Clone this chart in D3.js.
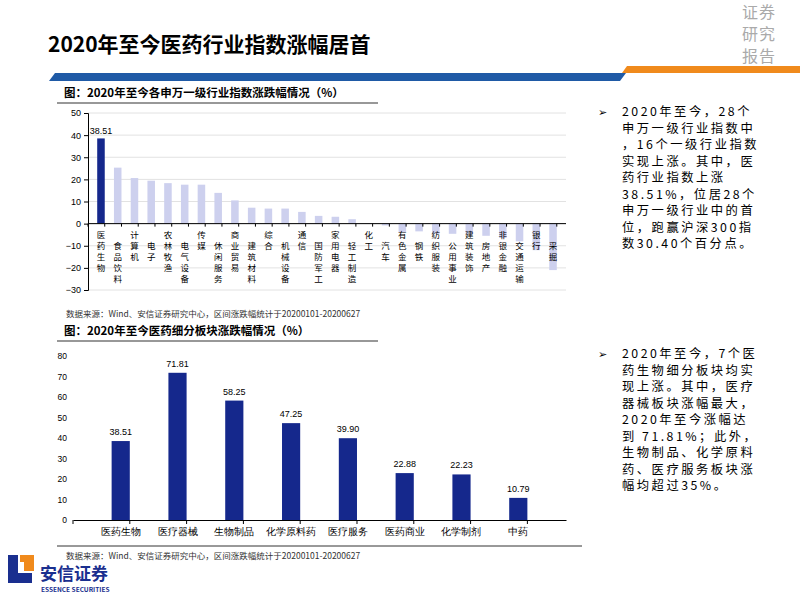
<!DOCTYPE html>
<html><head><meta charset="utf-8">
<script src="https://cdn.jsdelivr.net/npm/d3@7"></script>
<style>body{margin:0;background:#fff}svg{font-family:"Noto Sans CJK SC","Noto Sans",sans-serif}</style>
</head><body><svg id="c" width="800" height="600"></svg>
<script>
const industries = ["医药生物","食品饮料","计算机","电子","农林牧渔","电气设备","传媒","休闲服务","商业贸易","建筑材料","综合","机械设备","通信","国防军工","家用电器","轻工制造","化工","汽车","有色金属","钢铁","纺织服装","公用事业","建筑装饰","房地产","非银金融","交通运输","银行","采掘"];
const industryValues = [38.51,25.3,20.6,19.4,18.3,17.6,17.6,13.9,10.5,7.2,6.8,6.8,5.3,3.5,3.1,2.0,0.2,-0.8,-3.8,-3.5,-4.6,-4.6,-4.6,-5.5,-6.5,-8.0,-12.0,-21.0];
const topTicks = [50,40,30,20,10,0,-10,-20,-30];
const sectors = ["医药生物","医疗器械","生物制品","化学原料药","医疗服务","医药商业","化学制剂","中药"];
const sectorValues = [38.51,71.81,58.25,47.25,39.90,22.88,22.23,10.79];
const bottomTicks = [0,10,20,30,40,50,60,70,80];

const svg = d3.select("#c");
const navy = "#15288c";

// header
svg.append("text").attr("x",48).attr("y",52).attr("font-size",21).attr("font-weight","bold").text("2020年至今医药行业指数涨幅居首");
["证券","研究","报告"].forEach((t,i)=>svg.append("text").attr("x",742).attr("y",18+i*22).attr("font-size",16).attr("fill","#aaa").attr("letter-spacing",1).text(t));
svg.append("path").attr("d","M55,73 L626,73 L620,81 L49,81 Z").attr("fill","#1f5aa6");
svg.append("path").attr("d","M627,66 L800,66 L800,73 L622,73 Z").attr("fill","#f08a1c");

// captions
function caption(y, text, x2){
  svg.append("text").attr("x",64).attr("y",y).attr("font-size",11.5).attr("font-weight","bold").text(text);
  svg.append("line").attr("x1",57).attr("x2",x2).attr("y1",y+6).attr("y2",y+6).attr("stroke","#333").attr("stroke-width",1.2);
}
caption(97,"图：2020年至今各申万一级行业指数涨跌幅情况（%）",378);
caption(335,"图：2020年至今医药细分板块涨跌幅情况（%）",378);
function source(y){
  svg.append("text").attr("x",66).attr("y",y).attr("font-size",8.5).attr("fill","#333").text("数据来源：Wind、安信证券研究中心，区间涨跌幅统计于20200101-20200627");
}
source(317);
svg.append("line").attr("x1",57).attr("x2",582).attr("y1",546).attr("y2",546).attr("stroke","#333");
source(559);

// top chart
const x1 = d3.scaleBand().domain(industries).range([88,566]).padding(0.55);
const y1 = d3.scaleLinear().domain([-30,50]).range([290,113]);
const g1 = svg.append("g");
g1.selectAll("line.grid").data(topTicks).join("line").attr("x1",88).attr("x2",566)
  .attr("y1",d=>y1(d)).attr("y2",d=>y1(d)).attr("stroke","#e2e2e2");
g1.append("g").attr("transform","translate(88,0)").call(d3.axisLeft(y1).tickValues(topTicks).tickSize(4))
  .call(a=>{a.selectAll("text").attr("font-size",9).attr("font-family","Liberation Sans");});
g1.selectAll("rect").data(industryValues).join("rect")
  .attr("x",(d,i)=>x1(industries[i])).attr("width",x1.bandwidth())
  .attr("y",d=>y1(Math.max(0,d))).attr("height",d=>Math.abs(y1(d)-y1(0)))
  .attr("fill",(d,i)=>i===0?navy:"#cdd0ee");
g1.append("line").attr("x1",88).attr("x2",566).attr("y1",y1(0)).attr("y2",y1(0)).attr("stroke","#000");
g1.selectAll("line.tk").data(d3.range(industries.length+1)).join("line")
  .attr("x1",i=>88+i*x1.step()).attr("x2",i=>88+i*x1.step())
  .attr("y1",y1(0)).attr("y2",y1(0)+3).attr("stroke","#000");
g1.append("text").attr("x",x1(industries[0])+x1.bandwidth()/2).attr("y",y1(industryValues[0])-4)
  .attr("text-anchor","middle").attr("font-size",9).attr("font-family","Liberation Sans").text(industryValues[0].toFixed(2));
industries.forEach((name,i)=>{
  const cx = x1(name)+x1.bandwidth()/2;
  const start = y1(0)+14 + (i%2)*11;
  const t = g1.append("text").attr("font-size",8.5);
  [...name].forEach((ch,j)=>t.append("tspan").attr("x",cx).attr("y",start+j*11)
    .attr("text-anchor","middle").text(ch));
});

// bottom chart
const x2 = d3.scaleBand().domain(sectors).range([73,566]).padding(0.68);
const y2 = d3.scaleLinear().domain([0,80]).range([520,356]);
const g2 = svg.append("g");
g2.append("g").attr("transform","translate(73,0)").call(d3.axisLeft(y2).tickValues(bottomTicks).tickSize(0).tickPadding(6))
  .call(a=>{a.select("path").remove();a.selectAll("text").attr("font-size",8.5).attr("font-family","Liberation Sans");});
g2.selectAll("rect").data(sectorValues).join("rect")
  .attr("x",(d,i)=>x2(sectors[i])).attr("width",x2.bandwidth())
  .attr("y",d=>y2(d)).attr("height",d=>y2(0)-y2(d)).attr("fill",navy);
g2.selectAll("text.v").data(sectorValues).join("text")
  .attr("x",(d,i)=>x2(sectors[i])+x2.bandwidth()/2).attr("y",d=>y2(d)-6)
  .attr("text-anchor","middle").attr("font-size",9).attr("font-family","Liberation Sans").text(d=>d.toFixed(2));
g2.append("g").attr("transform",`translate(0,${y2(0)})`).call(d3.axisBottom(x2).tickSize(0).tickPadding(8).tickSizeOuter(0))
  .call(a=>{a.select("path").attr("stroke","#000");a.selectAll("text").attr("font-size",9.5);});
g2.selectAll("line.tk").data(d3.range(sectors.length+1)).join("line")
  .attr("x1",i=>73+i*x2.step()).attr("x2",i=>73+i*x2.step())
  .attr("y1",y2(0)).attr("y2",y2(0)+4).attr("stroke","#000");

// right text
function para(y, lines){
  svg.append("text").attr("x",598).attr("y",y).attr("font-size",11).text("➢");
  lines.forEach((l,i)=>svg.append("text").attr("x",622).attr("y",y+i*16.5)
    .attr("font-size",12.3).attr("letter-spacing",2.5).text(l));
}
para(116,["2020年至今，28个","申万一级行业指数中","，16个一级行业指数","实现上涨。其中，医","药行业指数上涨","38.51%，位居28个","申万一级行业中的首","位，跑赢沪深300指","数30.40个百分点。"]);
para(358,["2020年至今，7个医","药生物细分板块均实","现上涨。其中，医疗","器械板块涨幅最大，","2020年至今涨幅达","到 71.81%；此外，","生物制品、化学原料","药、医疗服务板块涨","幅均超过35%。"]);

// logo
svg.append("path").attr("d","M8,555 L8,583 L32,583 L32,573 L18,573 L18,555 Z").attr("fill","#1a2f8f");
svg.append("path").attr("d","M20,555 L34,555 L34,571 L24,571 L24,562 L20,562 Z").attr("fill","#f08a1c");
svg.append("text").attr("x",40).attr("y",580).attr("font-size",17).attr("font-weight","bold").attr("fill","#1a2f8f").text("安信证券");
svg.append("text").attr("x",41).attr("y",592).attr("font-size",6.5).attr("font-weight","bold").attr("fill","#1a2f8f").text("ESSENCE SECURITIES");
</script></body></html>
